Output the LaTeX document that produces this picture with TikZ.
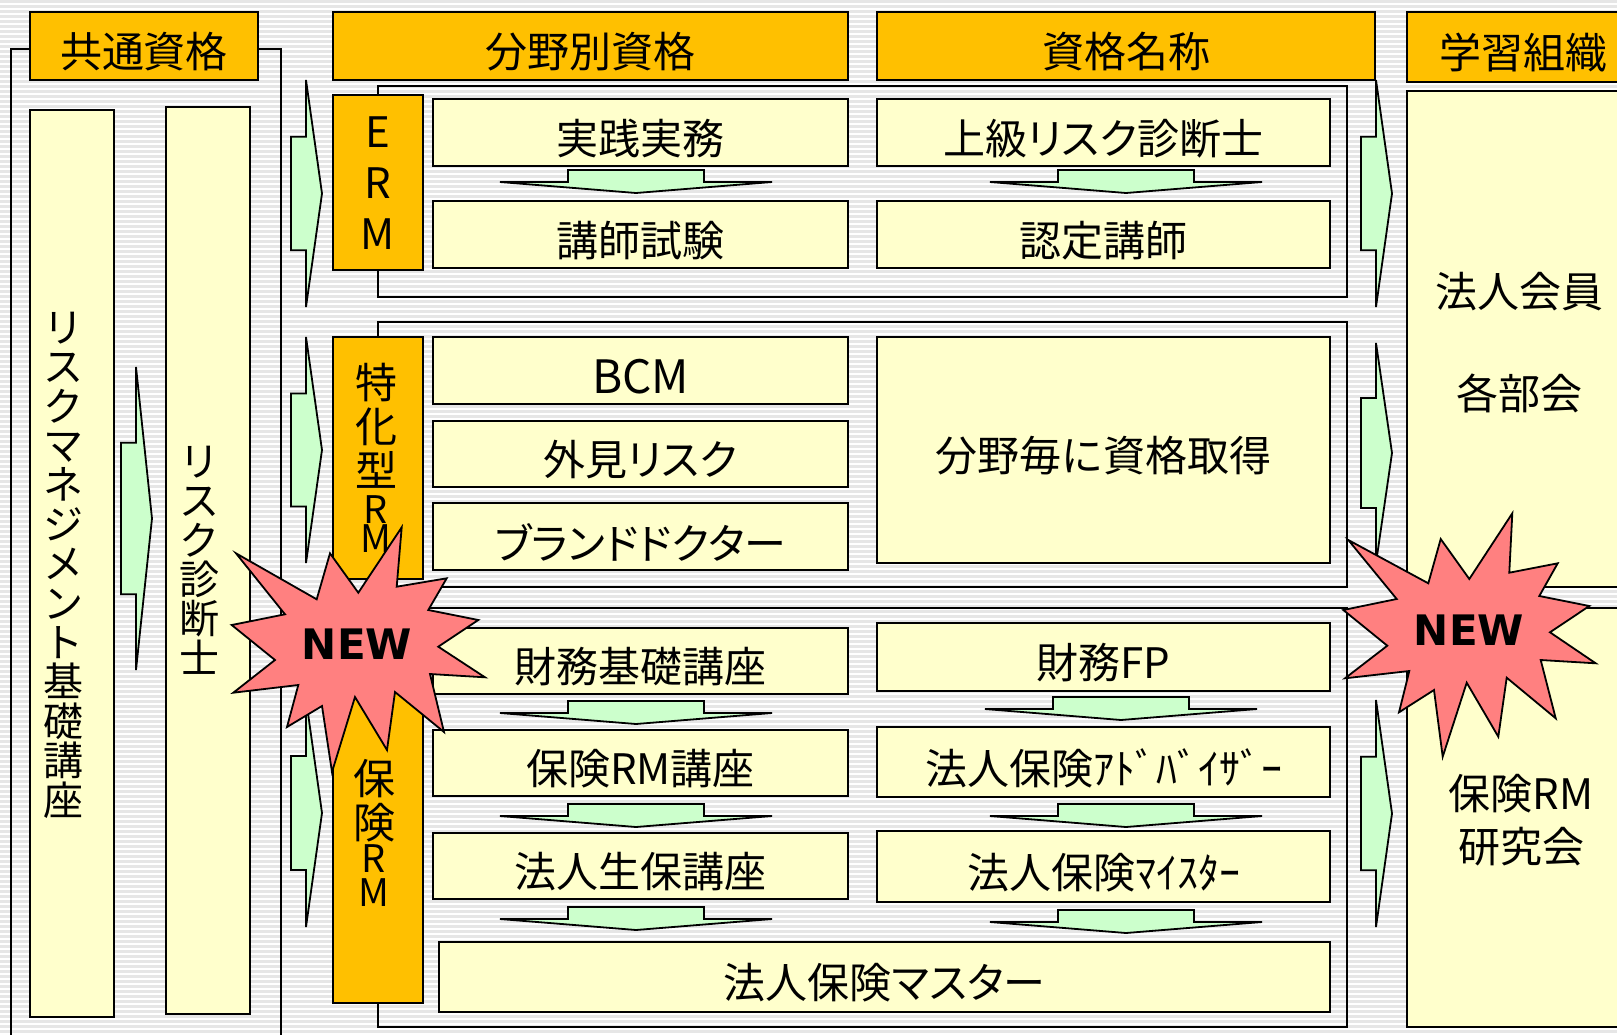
\documentclass[tikz,border=0pt]{standalone}
\usepackage{fontspec}
\setmainfont{Noto Sans CJK JP}
\newfontfamily\paltfnt{Noto Sans CJK JP}[RawFeature=+palt]
\newfontfamily\newfnt{DejaVu Sans}
\usetikzlibrary{fit}
\definecolor{hdrC}{HTML}{FFC000}
\definecolor{boxC}{HTML}{FFFFCC}
\definecolor{arrC}{HTML}{CCFFCC}
\definecolor{starC}{HTML}{FF8080}
\definecolor{stripeC}{HTML}{E6E6E6}
\newcommand\myRarrow[3]{%
  \pgfmathsetmacro\myyc{(#2+#3)/2}%
  \pgfmathsetmacro\myq{(#3-#2)/4}%
  \draw[garrow] (#1,{\myyc-\myq}) -- ({#1+15},{\myyc-\myq}) -- ({#1+15},#2) -- ({#1+31},\myyc)
    -- ({#1+15},#3) -- ({#1+15},{\myyc+\myq}) -- (#1,{\myyc+\myq}) -- cycle;}
\newcommand\myDarrow[2]{%
  \draw[garrow] ({#1-68},#2) -- ({#1+68},#2) -- ({#1+68},{#2+12}) -- ({#1+136},{#2+12})
    -- (#1,{#2+23}) -- ({#1-136},{#2+12}) -- ({#1-68},{#2+12}) -- cycle;}
\newcommand\smallLat[1]{{\fontsize{19}{19}\selectfont #1}}
\begin{document}
\begin{tikzpicture}[x=0.5pt,y=-0.5pt,
  lw/.style={line width=0.9pt},
  hdr/.style={draw, lw, fill=hdrC, inner sep=0pt},
  ybox/.style={draw, lw, fill=boxC, inner sep=0pt},
  grp/.style={draw, lw, inner sep=0pt},
  garrow/.style={draw, lw, fill=arrC, line join=miter},
  starshape/.style={draw, lw, fill=starC, line join=miter},
  txt/.style={font=\fontsize{21}{22}\selectfont, inner sep=0pt, yshift=-3pt},
  ktxt/.style={font=\paltfnt\fontsize{21}{22}\selectfont, inner sep=0pt, yshift=-3pt},
  ptxt/.style={font=\fontsize{21}{22}\selectfont, inner sep=0pt, align=center},
  vtxt/.style={font=\fontsize{20}{19.7}\selectfont, align=center, inner sep=0pt},
  newtxt/.style={font=\newfnt\bfseries\fontsize{21}{22}\selectfont, inner sep=0pt},
]
\clip (0,0) rectangle (1617,1034);
% background stripes
\fill[white] (0,0) rectangle (1617,1034);
\foreach \yy in {0,5,...,1035} \fill[stripeC] (0,\yy) rectangle (1617,{\yy+2.5});

% frames
\node[grp, fit={(11,49) (281,1045)}] (lframe) {};
\node[grp, fit={(378,86) (1347,297)}] (g1) {};
\node[grp, fit={(378,322) (1347,587)}] (g2) {};
\node[grp, fit={(378,608) (1347,1027)}] (g3) {};

% headers
\node[hdr, fit={(30,12) (258,80)}] (h1) {};
\node[hdr, fit={(333,12) (848,80)}] (h2) {};
\node[hdr, fit={(877,12) (1375,80)}] (h3) {};
\node[hdr, fit={(1407,12) (1640,82)}] (h4) {};
\node[txt] (h1t) at (h1) {共通資格};
\node[txt] (h2t) at (h2) {分野別資格};
\node[txt] (h3t) at (h3) {資格名称};
\node[txt] (h4t) at (h4) {学習組織};

% left columns
\node[ybox, fit={(30,110) (114,1017)}] (lc1) {};
\node[ybox, fit={(166,107) (250,1014)}] (lc2) {};
\node[vtxt] (lc1t) at (63,565) {リ\\ス\\ク\\マ\\ネ\\ジ\\メ\\ン\\ト\\基\\礎\\講\\座};
\node[vtxt] (lc2t) at (199,560) {リ\\ス\\ク\\診\\断\\士};

% orange side boxes
\node[hdr, fit={(333,95) (423,270)}] (o1) {};
\node[hdr, fit={(333,337) (423,579)}] (o2) {};
\node[hdr, fit={(333,623) (423,1003)}] (o3) {};
\node[font=\fontsize{21}{25.5}\selectfont, align=center, inner sep=0pt] (o1t) at (378,183) {E\\R\\M};
\node[font=\fontsize{21}{22}\selectfont, align=center, inner sep=0pt] (o2t) at (376,458)
  {特\\化\\型\\[-3.5pt]\smallLat{R}\\[-7.5pt]\smallLat{M}};
\node[font=\fontsize{21}{22}\selectfont, align=center, inner sep=0pt] (o3t) at (374,833)
  {保\\険\\[-5pt]\smallLat{R}\\[-5pt]\smallLat{M}};

% column 1 boxes
\node[ybox, fit={(433,99) (848,166)}] (a1) {};
\node[ybox, fit={(433,201) (848,268)}] (a2) {};
\node[ybox, fit={(433,337) (848,404)}] (s1) {};
\node[ybox, fit={(433,421) (848,487)}] (s2) {};
\node[ybox, fit={(433,503) (848,570)}] (s3) {};
\node[ybox, fit={(433,628) (848,694)}] (i1) {};
\node[ybox, fit={(433,730) (848,796)}] (i2) {};
\node[ybox, fit={(433,833) (848,899)}] (i3) {};
\node[ybox, fit={(439,942) (1330,1012)}] (i4) {};
% column 2 boxes
\node[ybox, fit={(877,99) (1330,166)}] (b1) {};
\node[ybox, fit={(877,201) (1330,268)}] (b2) {};
\node[ybox, fit={(877,337) (1330,563)}] (sb) {};
\node[ybox, fit={(877,623) (1330,691)}] (j1) {};
\node[ybox, fit={(877,727) (1330,797)}] (j2) {};
\node[ybox, fit={(877,831) (1330,902)}] (j3) {};
% right boxes
\node[ybox, fit={(1407,91) (1640,587)}] (r1) {};
\node[ybox, fit={(1407,608) (1640,1027)}] (r2) {};

% texts
\node[txt] (a1t) at (a1) {実践実務};
\node[txt] (a2t) at (a2) {講師試験};
\node[txt, font=\fontsize{23}{24}\selectfont] (s1t) at (s1) {BCM};
\node[ktxt] (s2t) at (s2) {外見リスク};
\node[ktxt] (s3t) at (s3) {ブランドドクター};
\node[txt] (i1t) at (i1) {財務基礎講座};
\node[txt] (i2t) at (i2) {保険RM講座};
\node[txt] (i3t) at (i3) {法人生保講座};
\node[ktxt] (i4t) at (i4) {法人保険マスター};
\node[ktxt] (b1t) at (b1) {上級リスク診断士};
\node[txt] (b2t) at (b2) {認定講師};
\node[txt] (sbt) at (sb) {分野毎に資格取得};
\node[txt] (j1t) at (j1) {財務FP};
\node[txt] (j2t) at (j2) {法人保険ｱﾄﾞﾊﾞｲｻﾞｰ};
\node[txt] (j3t) at (j3) {法人保険ﾏｲｽﾀｰ};
\node[ptxt] (r1a) at (1519,292) {法人会員};
\node[ptxt] (r1b) at (1519,393) {各部会};
\node[ptxt, font=\fontsize{21}{26.5}\selectfont] (r2t) at (1521,820) {保険RM\\研究会};

% block arrows
\myRarrow{121}{367}{670}
\myRarrow{291}{80}{307}
\myRarrow{1361}{80}{307}
\myRarrow{291}{337}{563}
\myRarrow{1361}{343}{563}
\myRarrow{291}{699}{927}
\myRarrow{1361}{700}{927}
\myDarrow{636}{170}
\myDarrow{1126}{170}
\myDarrow{636}{701}
\myDarrow{636}{804}
\myDarrow{636}{907}
\myDarrow{1121}{697}
\myDarrow{1126}{804}
\myDarrow{1126}{910}

% stars
\draw[starshape] (401.7,527.3) -- (396.7,586.7) -- (446.7,578.3) -- (428.3,610) -- (478.3,620)
  -- (438.3,646.7) -- (485,677.3) -- (430,674) -- (444,732) -- (395,692) -- (387,750)
  -- (355,697) -- (332,772) -- (322,706) -- (287,727) -- (298.3,685) -- (233.3,692.7)
  -- (275,660) -- (231.7,625) -- (285,614.3) -- (236,553.3) -- (316.7,599.3) -- (330,553.3)
  -- (358.3,592.7) -- cycle;
\node[newtxt] (new1) at (357,644) {NEW};
\draw[starshape] (1512.3,513.3) -- (1509.3,572.7) -- (1557.7,563.3) -- (1539.3,596) -- (1589.3,606)
  -- (1550,632.3) -- (1595.7,663.3) -- (1540.7,660) -- (1555.7,718.3) -- (1506.7,677.7)
  -- (1498.3,736.7) -- (1466.7,682.7) -- (1442.7,756.7) -- (1434,690) -- (1399,712.3)
  -- (1409.3,671) -- (1345,678.3) -- (1387.3,645.7) -- (1343.3,610) -- (1396.7,599)
  -- (1348.3,540) -- (1428.3,583.3) -- (1440.7,539) -- (1469.3,579) -- cycle;
\node[newtxt] (new2) at (1469,630) {NEW};
\end{tikzpicture}
\end{document}
